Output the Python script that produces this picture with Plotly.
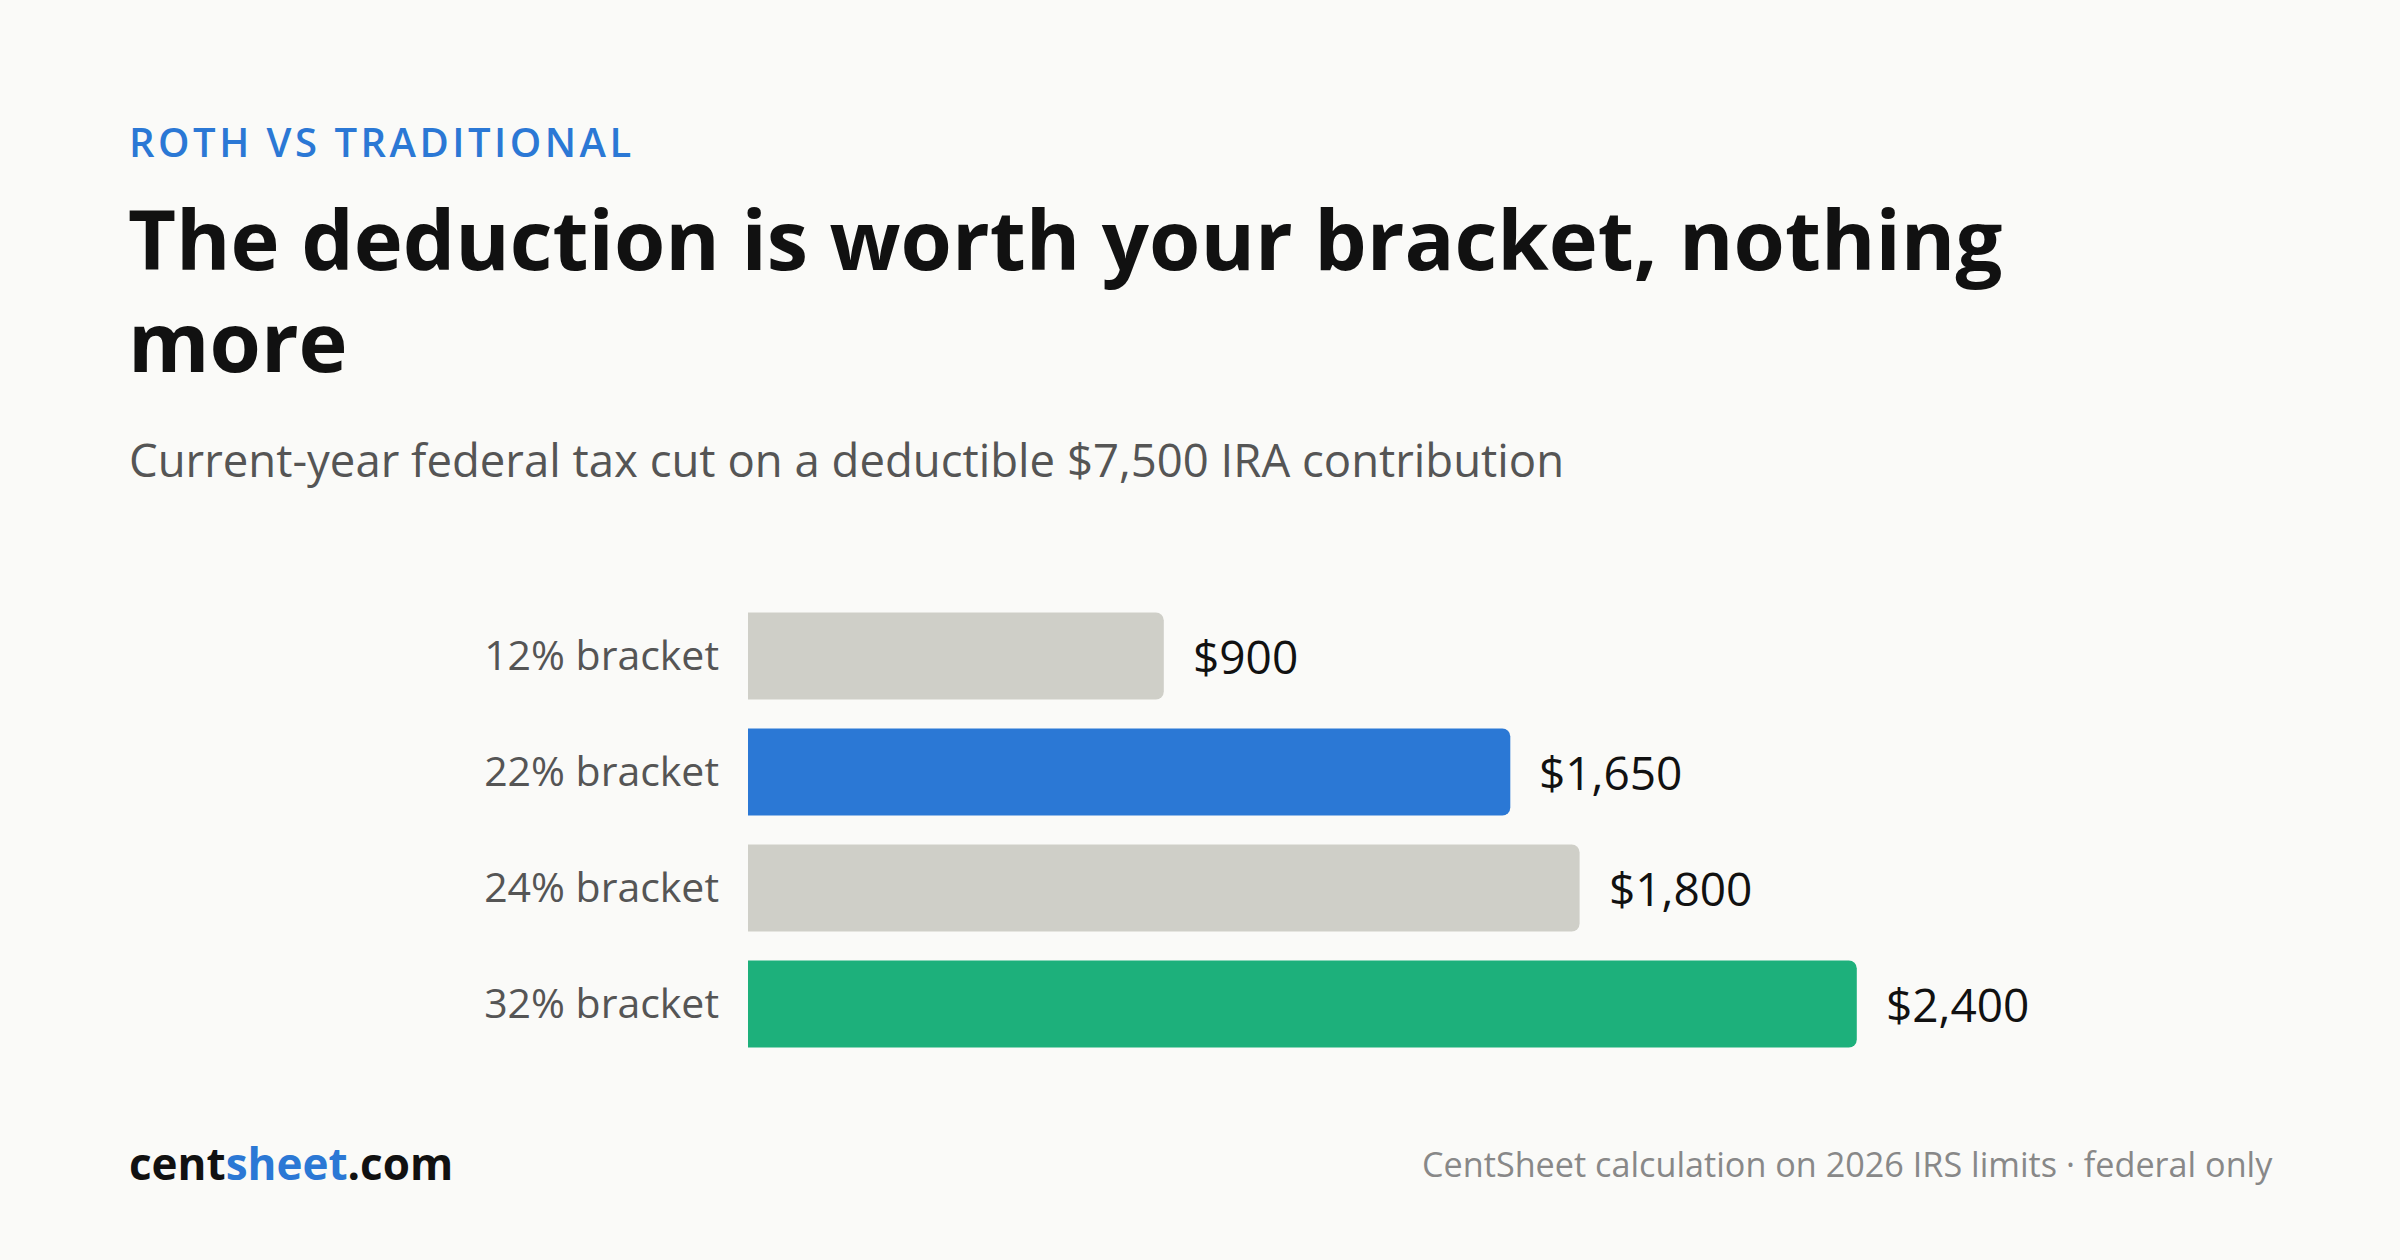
import plotly.graph_objects as go

categories = ["12% bracket", "22% bracket", "24% bracket", "32% bracket"]
values = [900, 1650, 1800, 2400]
value_labels = ["$900", "$1,650", "$1,800", "$2,400"]
bar_colors = ["#CFCFC8", "#2B78D5", "#CFCFC8", "#1DB07B"]

W, H = 2400, 1260
L, R, T, B = 748, 266, 598, 198
FONT = "Open Sans"
BG = "#FAFAF8"

def px_x(x):
    return (x - L) / (W - L - R)

def px_y(y):
    return (H - B - y) / (H - T - B)

fig = go.Figure(go.Bar(
    x=values, y=categories, orientation="h",
    marker=dict(color=bar_colors, line=dict(width=0)),
    hoverinfo="skip",
))

annotations = []
for c, v, lab in zip(categories, values, value_labels):
    annotations.append(dict(x=v, y=c, xref="x", yref="y", text=lab, showarrow=False,
                            xanchor="left", yanchor="middle", xshift=27,
                            font=dict(family=FONT, size=46, color="#111111", weight=500)))

def txt(text, x, y, size, color, weight=400, xanchor="left"):
    annotations.append(dict(x=px_x(x), y=px_y(y), xref="paper", yref="paper", text=text,
                            showarrow=False, xanchor=xanchor, yanchor="middle",
                            font=dict(family=FONT, size=size, color=color, weight=weight)))

txt("<span style='letter-spacing:3.5px'>ROTH VS TRADITIONAL</span>", 127, 141, 40, "#2B78D5", 600)
txt("The deduction is worth your bracket, nothing", 126, 237, 83, "#111111", 700)
txt("more", 126, 340, 83, "#111111", 700)
txt("Current-year federal tax cut on a deductible $7,500 IRA contribution", 127, 459, 45.5, "#555555")
txt("cent<span style='color:#2B78D5'>sheet</span>.com", 127, 1163, 44, "#111111", 700)
txt("CentSheet calculation on 2026 IRS limits · federal only", 2275, 1163, 34.2, "#888888", 400, "right")

fig.update_layout(
    width=W, height=H,
    margin=dict(l=L, r=R, t=T, b=B),
    paper_bgcolor=BG, plot_bgcolor=BG,
    bargap=0.25, barcornerradius=8,
    showlegend=False,
    xaxis=dict(range=[0, 3000], visible=False, fixedrange=True),
    yaxis=dict(autorange="reversed", showgrid=False, zeroline=False, showline=False,
               ticks="", ticklabelstandoff=28, fixedrange=True,
               tickfont=dict(family=FONT, size=41, color="#555555")),
    annotations=annotations,
)

fig.write_html("out.html", config={"displayModeBar": False},
               post_script="document.body.style.margin='0';document.body.style.background='#FAFAF8';")
